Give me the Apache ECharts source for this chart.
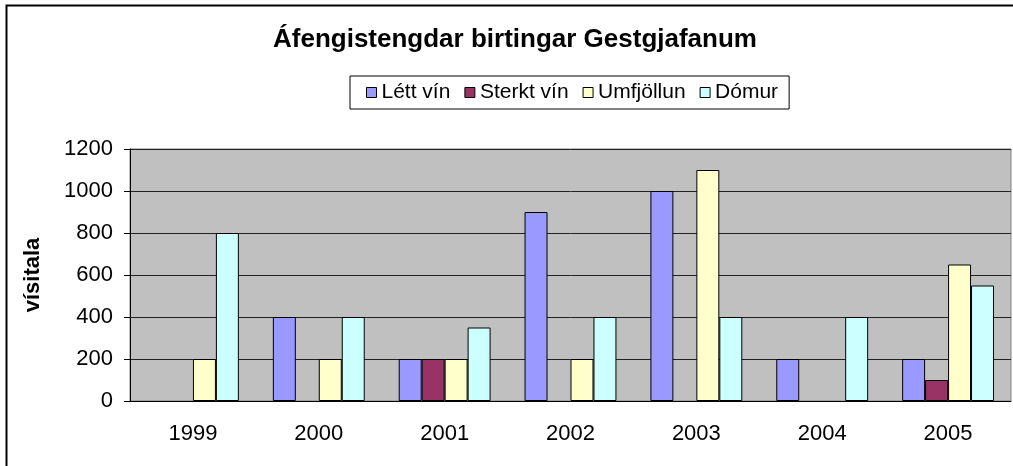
<!DOCTYPE html>
<html>
<head>
<meta charset="utf-8">
<script src="https://cdn.jsdelivr.net/npm/echarts@6/dist/echarts.min.js"></script>
<style>
  html, body { margin: 0; padding: 0; background: #fff; }
  #chart { width: 1013px; height: 466px; }
</style>
</head>
<body>
<div id="chart"></div>
<script>
// gögn
const years = ['1999', '2000', '2001', '2002', '2003', '2004', '2005']
const lettVin = [null, 400, 200, 900, 1000, 200, 200]
const sterktVin = [null, null, 200, null, null, null, 100]
const umfjollun = [200, 200, 200, 200, 1100, null, 650]
const domur = [800, 400, 350, 400, 400, 400, 550]

const FONT = '"Liberation Sans", Arial, sans-serif'

const chart = echarts.init(document.getElementById('chart'))

const bar = (name, data, color) => ({
  name,
  type: 'bar',
  data,
  barGap: '0%',
  barCategoryGap: '27%',
  itemStyle: { color, borderColor: '#000', borderWidth: 1 },
  animation: false
})

chart.setOption({
  backgroundColor: '#fff',
  textStyle: { fontFamily: FONT },
  title: {
    text: 'Áfengistengdar birtingar Gestgjafanum',
    left: 273,
    top: 27,
    padding: 0,
    textStyle: { fontFamily: FONT, fontSize: 26, fontWeight: 'bold', color: '#000' }
  },
  legend: {
    left: 350,
    top: 76,
    padding: [6, 11, 6, 16],
    itemGap: 14,
    itemWidth: 10,
    itemHeight: 10,
    icon: 'rect',
    borderColor: '#000',
    borderWidth: 1,
    itemStyle: { borderColor: '#000', borderWidth: 1 },
    textStyle: { fontFamily: FONT, fontSize: 21, color: '#000' }
  },
  grid: {
    left: 130,
    top: 149,
    right: 2,
    bottom: 65,
    show: true,
    backgroundColor: '#c0c0c0',
    borderColor: '#808080',
    borderWidth: 1
  },
  xAxis: {
    type: 'category',
    data: years,
    axisLine: { lineStyle: { color: '#000' } },
    axisTick: { length: 7, lineStyle: { color: '#000' } },
    axisLabel: { fontFamily: FONT, fontSize: 22, color: '#000', margin: 22 }
  },
  yAxis: {
    type: 'value',
    min: 0,
    max: 1200,
    interval: 200,
    name: 'vísitala',
    nameLocation: 'middle',
    nameGap: 86,
    nameTextStyle: { fontFamily: FONT, fontSize: 22, fontWeight: 'bold', color: '#000' },
    axisLine: { show: true, lineStyle: { color: '#000' } },
    axisTick: { show: true, length: 6, lineStyle: { color: '#000' } },
    axisLabel: { fontFamily: FONT, fontSize: 22, color: '#000', margin: 17, formatter: v => String(v) },
    splitLine: { lineStyle: { color: '#222', width: 1 } }
  },
  graphic: [{
    type: 'rect',
    shape: { x: 6.5, y: 5.5, width: 1030, height: 480 },
    style: { fill: null, stroke: '#000', lineWidth: 2 },
    silent: true
  }],
  series: [
    bar('Létt vín', lettVin, '#9999ff'),
    bar('Sterkt vín', sterktVin, '#993366'),
    bar('Umfjöllun', umfjollun, '#ffffcc'),
    bar('Dómur', domur, '#ccffff')
  ]
})
</script>
</body>
</html>
